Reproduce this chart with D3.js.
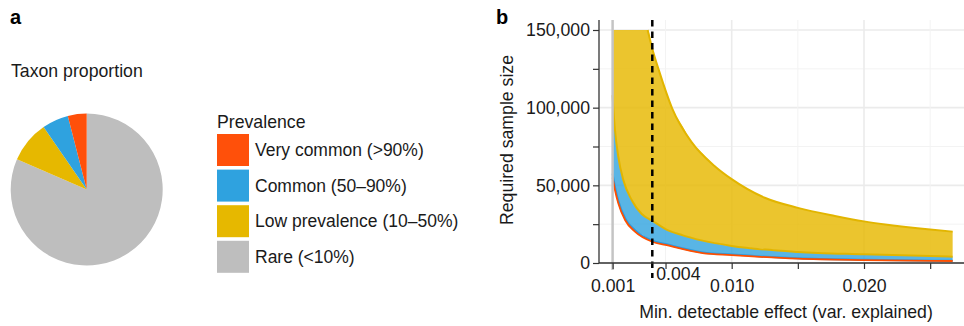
<!DOCTYPE html>
<html>
<head>
<meta charset="utf-8">
<script src="https://cdn.jsdelivr.net/npm/d3@7"></script>
<style>
  body { margin: 0; background: #fff; }
  svg { display: block; font-family: "Liberation Sans", Arial, sans-serif; }
</style>
</head>
<body>
<div id="chart"></div>
<script>
// Panel a: taxon proportion per prevalence class (legend order)
const prevalenceLabels = ["Very common (>90%)", "Common (50\u201390%)", "Low prevalence (10\u201350%)", "Rare (<10%)"];
const prevalenceColors = ["#ff500a", "#2fa2df", "#e6b800", "#bebebe"];
const taxonShare = [4.0, 5.6, 8.9, 81.5];

// Panel b: required sample size vs. minimal detectable effect, ribbons per class
const yellowHiX = [0.001, 0.00365, 0.004, 0.0045, 0.0055, 0.007, 0.0087, 0.010, 0.0125, 0.015, 0.0178, 0.020, 0.0216, 0.025, 0.0267];
const yellowHiN = [150000, 150000, 138000, 124000, 99600, 77500, 62500, 54000, 42000, 35500, 30300, 26800, 24800, 21500, 20200];

const yellowLoX = [0.001, 0.00105, 0.00118, 0.00143, 0.00181, 0.00244, 0.0032, 0.004, 0.005, 0.0063, 0.0078, 0.010, 0.015, 0.020, 0.025, 0.0267];
const yellowLoN = [108000, 100000, 85600, 68400, 53400, 40600, 31500, 27200, 21800, 17800, 14400, 11000, 7100, 5600, 4500, 4100];

const redX = [0.001, 0.00118, 0.00143, 0.00194, 0.00269, 0.004, 0.005, 0.0078, 0.010, 0.015, 0.020, 0.0267];
const redLoN = [55000, 47000, 38400, 27700, 20200, 13700, 11600, 6400, 5100, 2800, 1900, 1300];
const redHiN = [57500, 49000, 40000, 28900, 21100, 14400, 12200, 6800, 5400, 3000, 2050, 1400];

const xTicks = [0.001, 0.005, 0.010, 0.015, 0.020, 0.025];
const xTickLabels = { 0.001: "0.001", 0.010: "0.010", 0.020: "0.020" };
const yTicks = [0, 25000, 50000, 75000, 100000, 125000, 150000];
const yMajor = [0, 50000, 100000, 150000];
const thresholdEffect = 0.004;
const floorEffect = 0.001;

const width = 964;
const height = 326;
const fontSize = 17.7;

const svg = d3.select('#chart')
  .append('svg')
  .attr('width', width)
  .attr('height', height);

// ---------- panel a ----------
svg.append('text')
  .attr('x', 10).attr('y', 24)
  .attr('font-size', 20).attr('font-weight', 'bold')
  .text('a');

svg.append('text')
  .attr('x', 11).attr('y', 77)
  .attr('font-size', fontSize).attr('fill', '#1a1a1a')
  .text('Taxon proportion');

// pie goes clockwise from 12 o'clock: rare first, very common last
const pieOrder = [3, 2, 1, 0];
const pie = d3.pie().sort(null).value(i => taxonShare[i]);
const arc = d3.arc().innerRadius(0).outerRadius(76);

svg.append('g')
  .attr('transform', 'translate(86.7,189.5)')
  .selectAll('path')
  .data(pie(pieOrder))
  .enter()
  .append('path')
  .attr('d', arc)
  .attr('fill', d => prevalenceColors[d.data]);

// legend
const legend = svg.append('g').attr('transform', 'translate(217,0)');
legend.append('text')
  .attr('x', 0).attr('y', 127.5)
  .attr('font-size', fontSize).attr('fill', '#1a1a1a')
  .text('Prevalence');

const items = legend.selectAll('g.item')
  .data(prevalenceLabels)
  .enter()
  .append('g')
  .attr('class', 'item')
  .attr('transform', (d, i) => `translate(0,${134 + i * 35.6})`);

items.append('rect')
  .attr('width', 32).attr('height', 32)
  .attr('fill', (d, i) => prevalenceColors[i]);

items.append('text')
  .attr('x', 38).attr('y', 22.3)
  .attr('font-size', 17.5).attr('fill', '#1a1a1a')
  .text(d => d);

// ---------- panel b ----------
svg.append('text')
  .attr('x', 496).attr('y', 24)
  .attr('font-size', 20).attr('font-weight', 'bold')
  .text('b');

const plotLeft = 599, plotRight = 964, plotTop = 20, plotBottom = 263;

const x = d3.scaleLinear().domain([0.001, 0.020]).range([612.6, 864]);
const y = d3.scaleLinear().domain([0, 150000]).range([plotBottom, 30]);

const gb = svg.append('g');

// grid
gb.selectAll('line.hgrid')
  .data(yTicks)
  .enter()
  .append('line')
  .attr('x1', plotLeft).attr('x2', plotRight)
  .attr('y1', d => y(d)).attr('y2', d => y(d))
  .attr('stroke', d => yMajor.includes(d) ? '#ebebeb' : '#f3f3f3')
  .attr('stroke-width', d => yMajor.includes(d) ? 1.6 : 1);

gb.selectAll('line.vgrid')
  .data(xTicks.slice(1))
  .enter()
  .append('line')
  .attr('x1', d => x(d)).attr('x2', d => x(d))
  .attr('y1', plotTop).attr('y2', plotBottom)
  .attr('stroke', d => (d === 0.010 || d === 0.020) ? '#ebebeb' : '#f3f3f3')
  .attr('stroke-width', d => (d === 0.010 || d === 0.020) ? 1.6 : 1);

// build ribbon data
const yellowLo = d3.scaleLinear().domain(yellowLoX).range(yellowLoN);
const yellowHi = d3.scaleLinear().domain(yellowHiX).range(yellowHiN);

const area = d3.area()
  .x(d => x(d.x))
  .y0(d => y(d.lo))
  .y1(d => y(d.hi))
  .curve(d3.curveMonotoneX);

const line = d3.line()
  .x(d => x(d[0]))
  .y(d => y(d[1]))
  .curve(d3.curveMonotoneX);

// yellow ribbon: join both edge readings on the union of their x values
const yellowXs = Array.from(new Set(yellowHiX.concat(yellowLoX))).sort((a, b) => a - b);
const yellowRibbon = yellowXs.map(v => ({ x: v, lo: yellowLo(v), hi: yellowHi(v) }));

const blueXs = Array.from(new Set(yellowLoX.concat(redX))).sort((a, b) => a - b);
const redHiScale = d3.scaleLinear().domain(redX).range(redHiN);
const blueRibbon = blueXs.map(v => ({ x: v, lo: redHiScale(v), hi: yellowLo(v) }));

const redRibbon = redX.map((v, i) => ({ x: v, lo: redLoN[i], hi: redHiN[i] }));

gb.append('path')
  .datum(yellowRibbon)
  .attr('d', area)
  .attr('fill', '#e6b800')
  .attr('fill-opacity', 0.82);

gb.append('path')
  .datum(blueRibbon)
  .attr('d', area)
  .attr('fill', '#2fa2df')
  .attr('fill-opacity', 0.8);

gb.append('path')
  .datum(redRibbon)
  .attr('d', area)
  .attr('fill', '#ff500a');

// ribbon edges
const capIndex = yellowHiN.lastIndexOf(150000);
gb.append('path')
  .datum(yellowHiX.slice(capIndex).map((v, i) => [v, yellowHiN[capIndex + i]]))
  .attr('d', line)
  .attr('fill', 'none')
  .attr('stroke', '#e2b500')
  .attr('stroke-width', 2);

gb.append('path')
  .datum(yellowLoX.map((v, i) => [v, yellowLoN[i]]))
  .attr('d', line)
  .attr('fill', 'none')
  .attr('stroke', '#e2b500')
  .attr('stroke-width', 2);

gb.append('path')
  .datum(redX.map((v, i) => [v, redHiN[i]]))
  .attr('d', line)
  .attr('fill', 'none')
  .attr('stroke', '#2b9ade')
  .attr('stroke-width', 2);

gb.append('path')
  .datum(redX.map((v, i) => [v, redLoN[i]]))
  .attr('d', line)
  .attr('fill', 'none')
  .attr('stroke', '#ff4f00')
  .attr('stroke-width', 1.8);

// vertical reference lines
gb.append('line')
  .attr('x1', x(floorEffect)).attr('x2', x(floorEffect))
  .attr('y1', plotTop).attr('y2', 270)
  .attr('stroke', '#c4c4c4')
  .attr('stroke-width', 2.5);

gb.append('line')
  .attr('x1', x(thresholdEffect)).attr('x2', x(thresholdEffect))
  .attr('y1', plotTop).attr('y2', 278)
  .attr('stroke', '#000')
  .attr('stroke-width', 2.5)
  .attr('stroke-dasharray', '6.5,5');

gb.append('text')
  .attr('x', x(thresholdEffect) + 4).attr('y', 280)
  .attr('font-size', fontSize).attr('fill', '#1a1a1a')
  .text('0.004');

// axes
const xAxis = d3.axisBottom(x)
  .tickValues(xTicks)
  .tickSize(6)
  .tickFormat(d => xTickLabels[d] || '');

const yAxis = d3.axisLeft(y)
  .tickValues(yTicks)
  .tickSize(6)
  .tickFormat(d => yMajor.includes(d) ? d3.format(',')(d) : '');

const gx = gb.append('g')
  .attr('transform', `translate(0,${plotBottom})`)
  .call(xAxis);
gx.select('.domain').attr('d', `M${plotLeft},0H${plotRight}`);

const gy = gb.append('g')
  .attr('transform', `translate(${plotLeft},0)`)
  .call(yAxis);
gy.select('.domain').attr('d', `M0,${plotTop}V${plotBottom}`);

[gx, gy].forEach(g => {
  g.select('.domain').attr('stroke', '#333').attr('stroke-width', 1.3);
  g.selectAll('.tick line').attr('stroke', '#333').attr('stroke-width', 1.2);
  g.selectAll('.tick text')
    .attr('font-size', fontSize)
    .attr('font-family', '"Liberation Sans", Arial, sans-serif')
    .attr('fill', '#1a1a1a');
});
gx.selectAll('.tick text').attr('dy', '0.71em').attr('y', 16);
gy.selectAll('.tick text').attr('x', -9);

// axis titles
svg.append('text')
  .attr('transform', 'translate(513,140) rotate(-90)')
  .attr('text-anchor', 'middle')
  .attr('font-size', fontSize).attr('fill', '#1a1a1a')
  .text('Required sample size');

svg.append('text')
  .attr('x', 786).attr('y', 318)
  .attr('text-anchor', 'middle')
  .attr('font-size', fontSize).attr('fill', '#1a1a1a')
  .text('Min. detectable effect (var. explained)');
</script>
</body>
</html>
